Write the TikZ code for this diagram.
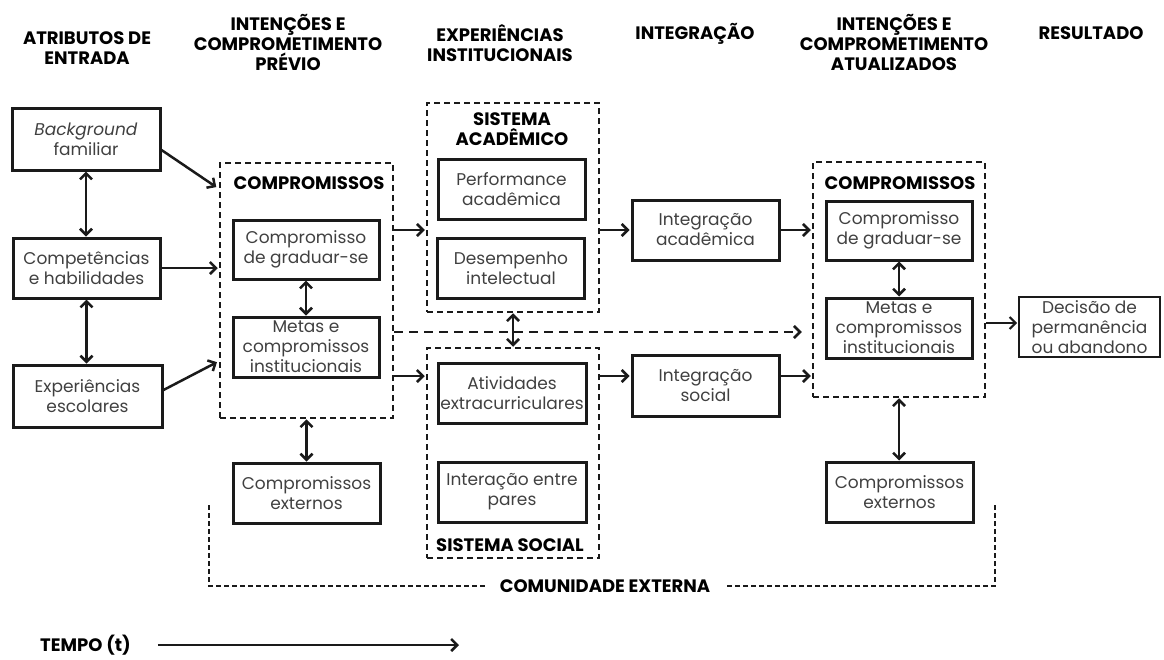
\documentclass[tikz,border=0pt]{standalone}
\usepackage{fontspec}
\setmainfont{Poppins}
\usetikzlibrary{arrows.meta,calc}
\definecolor{bodygray}{HTML}{404040}
\definecolor{linek}{HTML}{1A1A1A}
\begin{document}
\begin{tikzpicture}[x=1pt,y=-1pt,
  >={Straight Barb[length=6pt,width=12pt]},
  box/.style={draw=linek, line width=3pt, minimum width=147pt, minimum height=60pt, inner sep=0pt, align=center, text=bodygray, font=\fontsize{17}{20}\selectfont},
  cont/.style={draw=linek, line width=2.5pt, dash pattern=on 6pt off 4pt, inner sep=0pt},
  hdr/.style={align=center, font=\fontsize{18}{20}\selectfont\bfseries, inner sep=0pt, text=black},
  conn/.style={draw=linek, line width=2.5pt, ->, shorten >=1pt},
  biconn/.style={draw=linek, line width=2.5pt, <->},
  commline/.style={draw=linek, line width=2pt, dash pattern=on 5pt off 3pt},
]
\useasboundingbox (0,0) rectangle (1164,659);

% headers
\node[hdr] (h1) at (87,48) {ATRIBUTOS DE\\ENTRADA};
\node[hdr] (h2) at (288,42) {INTENÇÕES E\\COMPROMETIMENTO\\PRÉVIO};
\node[hdr] (h3) at (500,43) {EXPERIÊNCIAS\\INSTITUCIONAIS};
\node[hdr] (h4) at (695,34) {INTEGRAÇÃO};
\node[hdr] (h5) at (894,42) {INTENÇÕES E\\COMPROMETIMENTO\\ATUALIZADOS};
\node[hdr] (h6) at (1091,33) {RESULTADO};

% input attributes
\node[box, minimum width=148pt, minimum height=62pt] (bg) at (86,139) {\textit{Background}\\familiar};
\node[box] (cmp) at (86.5,268) {Competências\\e habilidades};
\node[box, minimum width=149pt, minimum height=62pt] (esc) at (87.5,396) {Experiências\\escolares};

% prior commitments
\node[cont, minimum width=173pt, minimum height=255pt] (L) at (306.5,290.5) {};
\node[hdr] (Llab) at (309,183) {COMPROMISSOS};
\node[box, minimum width=146pt, minimum height=59pt] (g1) at (306,249.5) {Compromisso\\de graduar-se};
\node[box, minimum width=146pt] (m1) at (306,347) {Metas e\\compromissos\\institucionais};
\node[box] (e1) at (306.5,493) {Compromissos\\externos};

% institutional experiences
\node[cont, minimum width=172pt, minimum height=209pt] (A) at (513,207.5) {};
\node[hdr] (Alab) at (512,129) {SISTEMA\\ACADÊMICO};
\node[box] (perf) at (511.5,189.5) {Performance\\acadêmica};
\node[box] (des) at (511,268) {Desempenho\\intelectual};

\node[cont, minimum width=172pt, minimum height=210pt] (S) at (513,453) {};
\node[box, minimum width=148pt] (ativ) at (512,393) {Atividades\\extracurriculares};
\node[box, minimum width=148pt] (par) at (512,492) {Interação entre\\pares};
\node[hdr] (Slab) at (510,545) {SISTEMA SOCIAL};

% integration
\node[box] (ia) at (705.5,230) {Integração\\acadêmica};
\node[box, minimum height=61pt] (is) at (705.5,385.5) {Integração\\social};

% updated commitments
\node[cont, minimum width=172pt, minimum height=235pt] (R) at (899,279.5) {};
\node[hdr] (Rlab) at (900,183) {COMPROMISSOS};
\node[box, minimum width=146pt, minimum height=59pt] (g2) at (899,230.5) {Compromisso\\de graduar-se};
\node[box, minimum width=146pt] (m2) at (899,328) {Metas e\\compromissos\\institucionais};
\node[box] (e2) at (899.5,492) {Compromissos\\externos};

% outcome
\node[box, line width=2pt, minimum width=141pt] (dec) at (1089.5,327) {Decisão de\\permanência\\ou abandono};

% connectors
\coordinate (ya) at (0,230);
\coordinate (ys) at (0,376);
\coordinate (yd) at (0,332);
\coordinate (yr) at (0,323);

\draw[conn, shorten >=3pt] ([yshift=-11pt]bg.east) -- ([yshift=-27pt]L.north west);
\draw[conn] (cmp.east) -- (cmp.east -| L.west);
\draw[conn, shorten >=2pt] ([yshift=6pt]esc.east) -- ([yshift=58pt]L.south west);
\draw[biconn] (bg.south) -- (bg.south |- cmp.north);
\draw[biconn] (cmp.south) -- (cmp.south |- esc.north);
\draw[biconn] (g1) -- (m1);
\draw[biconn] (L.south) -- (L.south |- e1.north);

\draw[conn] (L.east |- ya) -- (A.west |- ya);
\draw[conn] (A.east |- ya) -- (ia.west |- ya);
\draw[conn] (ia.east |- ya) -- (R.west |- ya);
\draw[conn] (L.east |- ys) -- (S.west |- ys);
\draw[conn] (S.east |- ys) -- (is.west |- ys);
\draw[conn] (is.east |- ys) -- (R.west |- ys);
\draw[conn, dash pattern=on 9pt off 6pt, shorten >=10pt] (L.east |- yd) -- (R.west |- yd);
\draw[biconn] (A.south) -- (S.north);
\draw[biconn] (g2) -- (m2);
\draw[conn, line width=2pt] (R.east |- yr) -- (dec.west |- yr);
\draw[biconn] (R.south) -- (R.south |- e2.north);

% external community
\node[hdr] (ce) at (605,586) {COMUNIDADE EXTERNA};
\coordinate (cl) at (209,505);
\coordinate (cr) at (995,505);
\draw[commline] (cl) |- ([xshift=-15pt]ce.west);
\draw[commline] (cr) |- ([xshift=15pt]ce.east);

% time
\node[hdr, anchor=west] (tempo) at (40,645) {TEMPO (t)};
\coordinate (tend) at (460,645);
\draw[conn] ([xshift=27pt]tempo.east) -- (tend);
\end{tikzpicture}
\end{document}
